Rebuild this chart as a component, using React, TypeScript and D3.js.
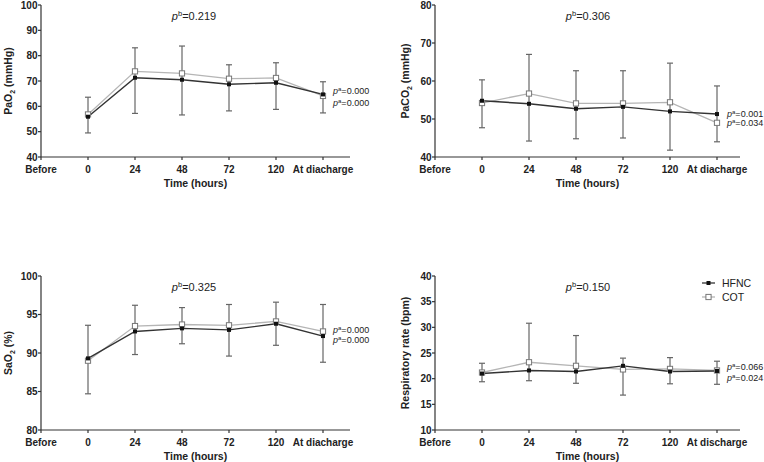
import React from "react";
import * as d3 from "d3";

const categories = ["Before", "0", "24", "48", "72", "120", "At diacharge"];
const categoriesRR = ["Before", "0", "24", "48", "72", "120", "At discharge"];
const timepoints = ["0", "24", "48", "72", "120", "At diacharge"];

const pao2Hfnc = [55.9, 71.3, 70.5, 68.7, 69.3, 64.7];
const pao2Cot = [56.8, 73.8, 73.0, 70.9, 71.2, 64.1];
const pao2High = [63.6, 83.1, 83.8, 76.4, 77.2, 69.7];
const pao2Low = [49.5, 57.2, 56.6, 58.2, 58.8, 57.4];

const paco2Hfnc = [54.8, 54.0, 52.7, 53.2, 52.0, 51.3];
const paco2Cot = [54.2, 56.7, 54.1, 54.1, 54.4, 49.0];
const paco2High = [60.3, 67.0, 62.7, 62.7, 64.7, 58.7];
const paco2Low = [47.7, 44.2, 44.8, 45.0, 41.8, 44.0];

const sao2Hfnc = [89.3, 92.8, 93.2, 93.0, 93.8, 92.2];
const sao2Cot = [89.0, 93.5, 93.7, 93.6, 94.1, 92.8];
const sao2High = [93.6, 96.2, 95.9, 96.3, 96.6, 96.3];
const sao2Low = [84.7, 89.8, 91.2, 89.6, 91.0, 88.8];

const rrHfnc = [21.0, 21.6, 21.4, 22.5, 21.4, 21.5];
const rrCot = [21.2, 23.2, 22.5, 21.8, 21.9, 21.6];
const rrHigh = [23.0, 30.8, 28.4, 24.0, 24.1, 23.4];
const rrLow = [19.4, 19.6, 19.1, 16.8, 19.0, 18.9];

const pbValues = ["0.219", "0.306", "0.325", "0.150"];
const paValues = [
  ["0.000", "0.000"],
  ["0.001", "0.034"],
  ["0.000", "0.000"],
  ["0.066", "0.024"],
];
const seriesNames = ["HFNC", "COT"];

const FONT = "'Liberation Sans', Arial, Helvetica, sans-serif";

type PanelProps = {
  x0: number;
  xEnd: number;
  yTop: number;
  yBottom: number;
  domain: [number, number];
  step: number;
  cats: string[];
  yLabel: React.ReactNode;
  yLabelX: number;
  hfnc: number[];
  cot: number[];
  hi: number[];
  lo: number[];
  pb: string;
  pa: string[];
  paY: number[];
  legend?: boolean;
};

function Panel(p: PanelProps) {
  const x = d3
    .scalePoint<string>()
    .domain(p.cats)
    .range([p.x0, p.x0 + 47 * (p.cats.length - 1)]);
  const y = d3.scaleLinear().domain(p.domain).range([p.yBottom, p.yTop]);
  const ticks = d3.range(p.domain[0], p.domain[1] + 0.001, p.step);
  const dataCats = p.cats.slice(1);
  const line = d3
    .line<number>()
    .x((_, i) => x(dataCats[i]) as number)
    .y((v) => y(v));
  const xLast = x(dataCats[dataCats.length - 1]) as number;
  const midX = (p.x0 + p.xEnd) / 2 + 0;
  return (
    <g fontFamily={FONT}>
      {/* axes */}
      <line x1={p.x0} x2={p.x0} y1={p.yTop} y2={p.yBottom} stroke="#333" strokeWidth={1.2} />
      <line x1={p.x0} x2={p.xEnd} y1={p.yBottom} y2={p.yBottom} stroke="#333" strokeWidth={1.2} />
      {ticks.map((t) => (
        <g key={"yt" + t}>
          <line x1={p.x0 - 3} x2={p.x0} y1={y(t)} y2={y(t)} stroke="#333" strokeWidth={1.2} />
          <text
            x={p.x0 - 3.5}
            y={y(t)}
            dy="0.35em"
            textAnchor="end"
            fontSize={10}
            fontWeight="bold"
            fill="#222"
          >
            {t}
          </text>
        </g>
      ))}
      {p.cats.map((c) => (
        <g key={"xt" + c}>
          <line x1={x(c)} x2={x(c)} y1={p.yBottom} y2={p.yBottom + 3} stroke="#333" strokeWidth={1.2} />
          <text
            x={x(c)}
            y={p.yBottom + 16}
            textAnchor="middle"
            fontSize={10}
            fontWeight="bold"
            fill="#222"
          >
            {c}
          </text>
        </g>
      ))}
      <text
        x={midX - 0}
        y={p.yBottom + 29.5}
        textAnchor="middle"
        fontSize={10.5}
        fontWeight="bold"
        fill="#222"
      >
        Time (hours)
      </text>
      <text
        transform={`translate(${p.yLabelX},${(p.yTop + p.yBottom) / 2}) rotate(-90)`}
        textAnchor="middle"
        fontSize={10.5}
        fontWeight="bold"
        fill="#222"
      >
        {p.yLabel}
      </text>
      {/* error bars */}
      {dataCats.map((c, i) => {
        const cx = x(c) as number;
        return (
          <g key={"eb" + c} stroke="#666" strokeWidth={1.2}>
            <line x1={cx} x2={cx} y1={y(p.hi[i])} y2={y(p.lo[i])} />
            <line x1={cx - 3} x2={cx + 3} y1={y(p.hi[i])} y2={y(p.hi[i])} />
            <line x1={cx - 3} x2={cx + 3} y1={y(p.lo[i])} y2={y(p.lo[i])} />
          </g>
        );
      })}
      {/* lines */}
      <path d={line(p.cot) || ""} fill="none" stroke="#b5b5b5" strokeWidth={1.3} />
      <path d={line(p.hfnc) || ""} fill="none" stroke="#333" strokeWidth={1.4} />
      {p.cot.map((v, i) => (
        <rect
          key={"c" + i}
          x={(x(dataCats[i]) as number) - 2.6}
          y={y(v) - 2.6}
          width={5.2}
          height={5.2}
          fill="#fff"
          stroke="#777"
          strokeWidth={1}
        />
      ))}
      {p.hfnc.map((v, i) => (
        <rect
          key={"h" + i}
          x={(x(dataCats[i]) as number) - 2}
          y={y(v) - 2}
          width={4}
          height={4}
          fill="#111"
        />
      ))}
      {/* p^b */}
      <text x={p.x0 + 153} y={p.yTop + 15} textAnchor="middle" fontSize={11} fill="#222">
        <tspan fontStyle="italic">p</tspan>
        <tspan fontSize={7.5} dy={-4.5}>b</tspan>
        <tspan dy={4.5}>={p.pb}</tspan>
      </text>
      {/* p^a */}
      {p.pa.map((s, i) => (
        <text
          key={"pa" + i}
          x={xLast + 10}
          y={y(p.paY[i])}
          dy="0.35em"
          fontSize={9}
          fill="#222"
        >
          <tspan fontStyle="italic">p</tspan>
          <tspan fontSize={6} dy={-3}>a</tspan>
          <tspan dy={3}>={s}</tspan>
        </text>
      ))}
      {p.legend && (
        <g>
          {seriesNames.map((n, i) => {
            const ly = p.yTop + 7 + i * 14;
            const lx = p.xEnd - 38;
            return (
              <g key={n}>
                <line
                  x1={lx}
                  x2={lx + 13}
                  y1={ly}
                  y2={ly}
                  stroke={i === 0 ? "#333" : "#b5b5b5"}
                  strokeWidth={1.3}
                />
                {i === 0 ? (
                  <rect x={lx + 4.5} y={ly - 2} width={4} height={4} fill="#111" />
                ) : (
                  <rect
                    x={lx + 3.9}
                    y={ly - 2.6}
                    width={5.2}
                    height={5.2}
                    fill="#fff"
                    stroke="#777"
                    strokeWidth={1}
                  />
                )}
                <text x={lx + 20} y={ly} dy="0.36em" fontSize={10.5} fill="#222">
                  {n}
                </text>
              </g>
            );
          })}
        </g>
      )}
    </g>
  );
}

function Sub({ main, sub, rest }: { main: string; sub: string; rest: string }) {
  return (
    <>
      <tspan>{main}</tspan>
      <tspan fontSize={7} dy={3}>{sub}</tspan>
      <tspan dy={-3}>{rest}</tspan>
    </>
  );
}

export default function App() {
  return (
    <svg
      width={764}
      height={462}
      style={{ position: "absolute", left: 0, top: 0, background: "#fff", display: "block" }}
    >
      <rect width={764} height={462} fill="#fff" />
      <Panel
        x0={41}
        xEnd={350}
        yTop={5}
        yBottom={157}
        domain={[40, 100]}
        step={10}
        cats={categories}
        yLabel={<Sub main="PaO" sub="2" rest=" (mmHg)" />}
        yLabelX={12}
        hfnc={pao2Hfnc}
        cot={pao2Cot}
        hi={pao2High}
        lo={pao2Low}
        pb={pbValues[0]}
        pa={paValues[0]}
        paY={[66.2, 61.2]}
      />
      <Panel
        x0={435}
        xEnd={740}
        yTop={5}
        yBottom={157}
        domain={[40, 80]}
        step={10}
        cats={categories}
        yLabel={<Sub main="PaCO" sub="2" rest=" (mmHg)" />}
        yLabelX={409}
        hfnc={paco2Hfnc}
        cot={paco2Cot}
        hi={paco2High}
        lo={paco2Low}
        pb={pbValues[1]}
        pa={paValues[1]}
        paY={[51.4, 49.0]}
      />
      <Panel
        x0={41}
        xEnd={350}
        yTop={276}
        yBottom={430}
        domain={[80, 100]}
        step={5}
        cats={categories}
        yLabel={<Sub main="SaO" sub="2" rest=" (%)" />}
        yLabelX={12}
        hfnc={sao2Hfnc}
        cot={sao2Cot}
        hi={sao2High}
        lo={sao2Low}
        pb={pbValues[2]}
        pa={paValues[2]}
        paY={[93.0, 91.7]}
      />
      <Panel
        x0={435}
        xEnd={740}
        yTop={276}
        yBottom={430}
        domain={[10, 40]}
        step={5}
        cats={categoriesRR}
        yLabel={<tspan>Respiratory rate (bpm)</tspan>}
        yLabelX={409}
        hfnc={rrHfnc}
        cot={rrCot}
        hi={rrHigh}
        lo={rrLow}
        pb={pbValues[3]}
        pa={paValues[3]}
        paY={[22.3, 20.1]}
        legend
      />
    </svg>
  );
}
